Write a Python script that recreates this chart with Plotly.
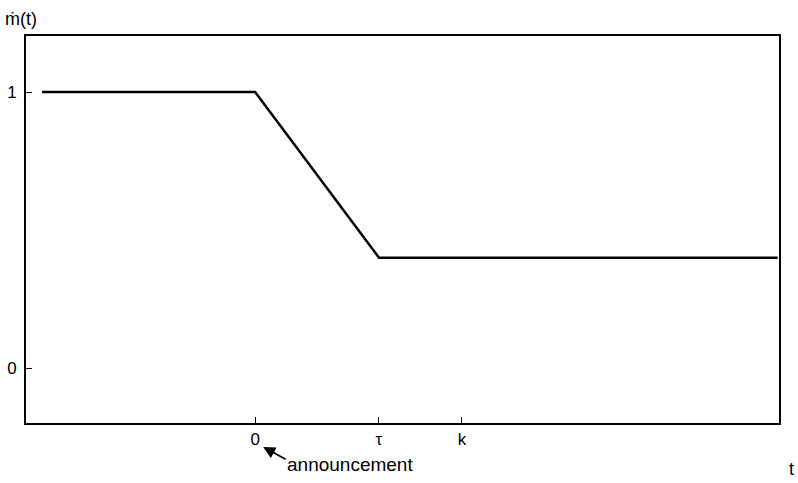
import plotly.graph_objects as go

# data
t_vals = [-1.72, 0.0, 1.0, 4.22]
m_vals = [1.0, 1.0, 0.40, 0.40]
x_tickvals = [0.0, 1.0, 1.67]
x_ticktext = ["0", "τ", "k"]
y_tickvals = [0, 1]
y_ticktext = ["0", "1"]

FONT = "Liberation Sans, Arial, Helvetica, sans-serif"

fig = go.Figure()
fig.add_trace(go.Scatter(x=t_vals, y=m_vals, mode="lines",
                         line=dict(color="black", width=2.5),
                         hoverinfo="skip", showlegend=False))

fig.update_layout(
    width=798, height=483,
    margin=dict(l=26, r=19, t=36, b=60, autoexpand=False),
    paper_bgcolor="white", plot_bgcolor="white",
    font=dict(family=FONT, size=17, color="black"),
    showlegend=False,
)
fig.update_xaxes(range=[-1.85, 4.23], tickvals=x_tickvals, ticktext=x_ticktext,
                 ticks="inside", ticklen=6, tickwidth=1.3, tickcolor="black",
                 showgrid=False, zeroline=False, showline=True, linecolor="black",
                 linewidth=2, mirror=True, tickfont=dict(size=17), automargin=False)
fig.update_yaxes(range=[-0.199, 1.203], tickvals=y_tickvals, ticktext=y_ticktext,
                 ticks="inside", ticklen=6, tickwidth=1.3, tickcolor="black",
                 showgrid=False, zeroline=False, showline=True, linecolor="black",
                 linewidth=2, mirror=True, tickfont=dict(size=17), automargin=False,
                 ticklabelstandoff=4)

# arrow pointing at the origin tick
fig.add_annotation(x=0.065, y=-0.062, xref="x", yref="paper", text="",
                   showarrow=True, arrowhead=2, arrowsize=1.5, arrowwidth=1.6,
                   arrowcolor="black", ax=24, ay=13, axref="pixel", ayref="pixel")
fig.add_annotation(x=0.77, y=-0.108, xref="x", yref="paper", text="announcement",
                   showarrow=False, font=dict(size=19), xanchor="center", yanchor="middle")
fig.add_annotation(x=1.017, y=-0.118, xref="paper", yref="paper", text="t",
                   showarrow=False, font=dict(size=18), xanchor="center", yanchor="middle")
fig.add_annotation(x=-0.030, y=1.045, xref="paper", yref="paper", text="ṁ(t)",
                   showarrow=False, font=dict(size=18), xanchor="left", yanchor="middle")

fig.write_html("out.html", config={"displayModeBar": False},
               post_script="document.body.style.margin='0px';")
